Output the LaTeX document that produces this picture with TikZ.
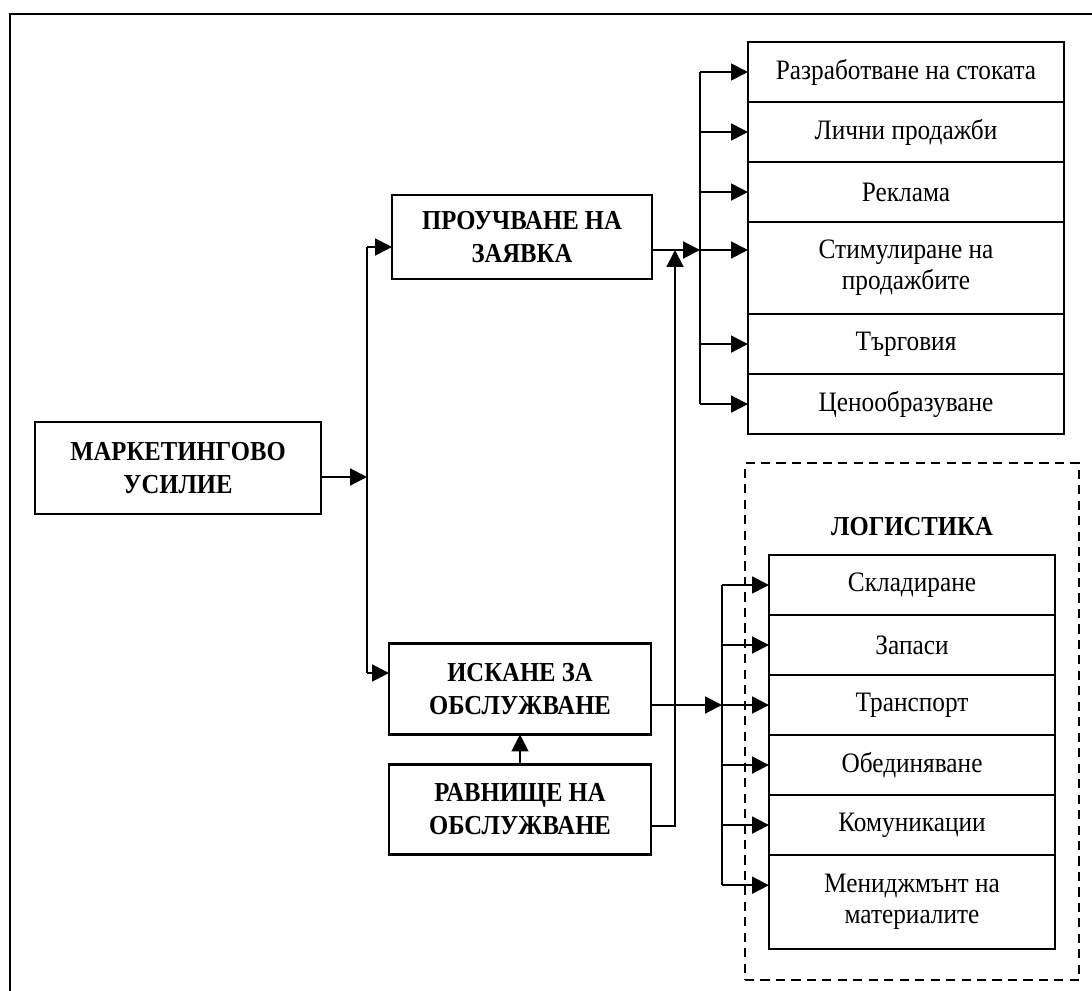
\documentclass[tikz,border=0pt]{standalone}
\usepackage{fontspec}
\setmainfont{Liberation Serif}[FakeStretch=0.9]
\usetikzlibrary{arrows.meta,positioning}

\begin{document}
\begin{tikzpicture}[auto,>={Triangle[length=12pt,width=12pt]},x=0.025cm,y=-0.025cm,
	every node/.style={font=\fontsize{20}{22}\selectfont}]
	\tikzstyle{block} = [draw, rectangle, line width=1.9pt, outer sep=0pt, align=center, font=\fontsize{19.5}{23.5}\selectfont\bfseries]
	\tikzstyle{item} = [draw, rectangle, line width=1.9pt, outer sep=0pt, align=center, minimum height=1.5cm]
	\tikzstyle{conn} = [line width=1.4pt]
	
	\useasboundingbox (0,0) rectangle (1092,991);
	\draw [line width=2.1pt] (10,991) -- (10,14) -- (1092,14);
	
	\node [block, minimum width=7.15cm, minimum height=2.3cm] (effort) at (178,468) {МАРКЕТИНГОВО\\УСИЛИЕ};
	\node [block, minimum width=6.5cm, minimum height=2.1cm] (study) at (522,237) {ПРОУЧВАНЕ НА\\ЗАЯВКА};
	\node [block, minimum width=6.55cm, minimum height=2.275cm] (request) at (520,689) {ИСКАНЕ ЗА\\ОБСЛУЖВАНЕ};
	\node [block, minimum width=6.55cm, minimum height=2.25cm, below=0.75cm of request] (level) {РАВНИЩЕ НА\\ОБСЛУЖВАНЕ};
	
	\node [item, minimum width=7.9cm] (dev) at (906,72) {Разработване на стоката};
	\node [item, minimum width=7.9cm, below=0pt of dev] (sales) {Лични продажби};
	\node [item, minimum width=7.9cm, below=0pt of sales] (ad) {Реклама};
	\node [item, minimum width=7.9cm, minimum height=2.3cm, below=0pt of ad] (promo) {Стимулиране на\\продажбите};
	\node [item, minimum width=7.9cm, below=0pt of promo] (trade) {Търговия};
	\node [item, minimum width=7.9cm, below=0pt of trade] (price) {Ценообразуване};
	
	\node [draw, line width=1.5pt, dash pattern=on 6.5pt off 4.5pt, minimum width=8.35cm, minimum height=12.925cm] (logframe) at (912,721.5) {};
	\node [font=\fontsize{19.5}{23.5}\selectfont\bfseries] (logtitle) at (912,527) {ЛОГИСТИКА};
	\node [item, minimum width=7.15cm] (store) at (912,585) {Складиране};
	\node [item, minimum width=7.15cm, below=0pt of store] (stock) {Запаси};
	\node [item, minimum width=7.15cm, below=0pt of stock] (transport) {Транспорт};
	\node [item, minimum width=7.15cm, below=0pt of transport] (merge) {Обединяване};
	\node [item, minimum width=7.15cm, below=0pt of merge] (comm) {Комуникации};
	\node [item, minimum width=7.15cm, minimum height=2.35cm, below=0pt of comm] (mgmt) {Мениджмънт на\\материалите};
	
	\coordinate (split) at (367,477);
	\coordinate (sTop) at (367,247);
	\coordinate (sBot) at (367,673);
	\coordinate (busA) at (700,250);
	\coordinate (rise) at (675,826);
	\coordinate (busB) at (722,705);
	\coordinate (mgmtIn) at ([yshift=12pt]mgmt.west);
	
	\draw [conn,->] (effort.east |- split) -- (split);
	\draw [conn] (sTop) -- (sBot);
	\draw [conn,->] (sTop) -- (sTop -| study.west);
	\draw [conn,->] (sBot) -- (sBot -| request.west);
	\draw [conn,->] (level) -- (request);
	\draw [conn,->] (level.east |- rise) -- (rise) -- (rise |- busA);
	\draw [conn,->] (study.east |- busA) -- (busA);
	\draw [conn,->] (busA) -- (busA -| promo.west);
	\draw [conn] (busA |- dev.west) -- (busA |- price.west);
	\foreach \n in {dev,sales,ad,trade,price}
		\draw [conn,->] (busA |- \n.west) -- (\n.west);
	
	\draw [conn,->] (request.east |- busB) -- (busB);
	\draw [conn] (busB |- store.west) -- (busB |- mgmtIn);
	\foreach \n in {store,stock,transport,merge,comm}
		\draw [conn,->] (busB |- \n.west) -- (\n.west);
	\draw [conn,->] (busB |- mgmtIn) -- (mgmtIn);
\end{tikzpicture}
\end{document}
